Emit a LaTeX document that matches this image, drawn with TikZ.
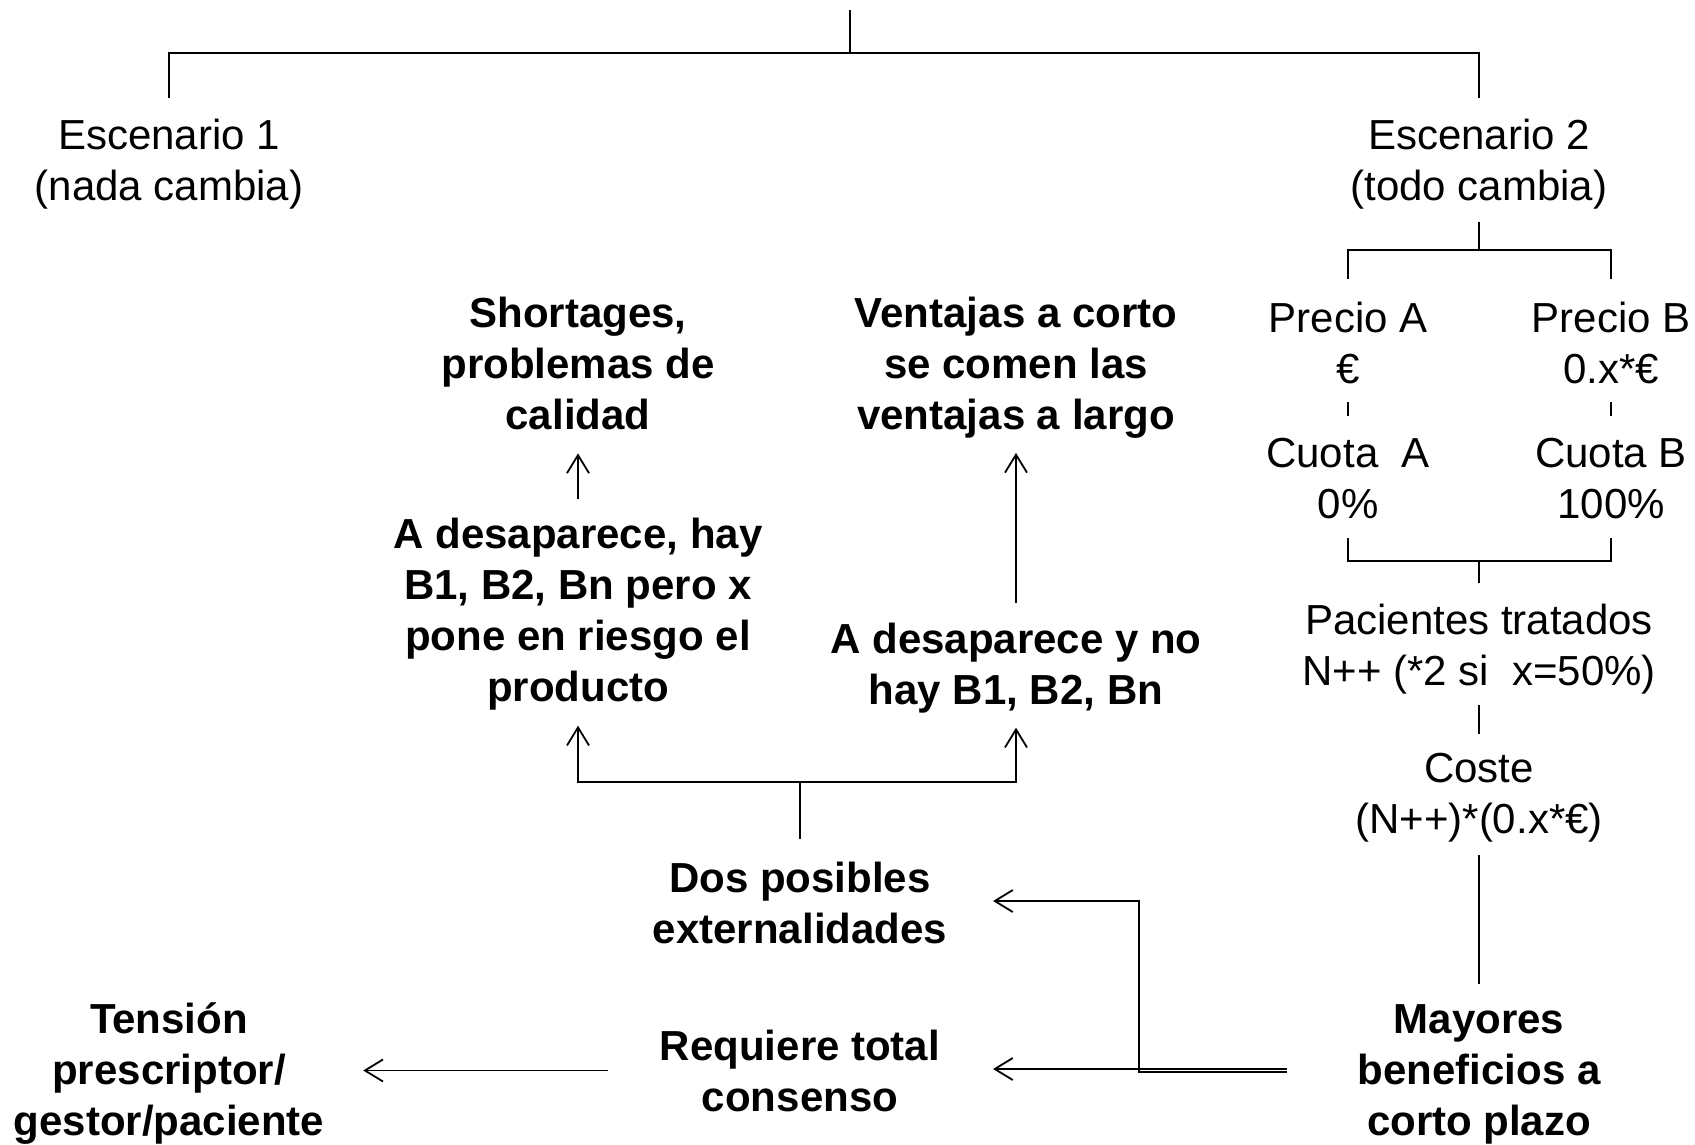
\documentclass[tikz,border=0pt]{standalone}
\usepackage{fontspec}
\setmainfont{Liberation Sans}
\usetikzlibrary{arrows.meta,calc}
\newcommand\mlines[2][51pt]{\vtop{\baselineskip=#1\relax\lineskip=0pt\relax\lineskiplimit=-200pt\relax\halign{\hfil##\hfil\cr#2\crcr}}}
\tikzset{
 txt/.style={inner sep=0pt, outer sep=0pt, anchor=base, font=\fontsize{42pt}{51pt}\selectfont},
 btxt/.style={txt, font=\fontsize{42pt}{51pt}\selectfont\bfseries},
 ln/.style={line width=1.8pt},
 arr/.style={ln, -{Straight Barb[length=18pt,width=22pt]}},
}
\begin{document}
\begin{tikzpicture}[x=1pt,y=-1pt]
\useasboundingbox (0,0) rectangle (1695,1144);
% text nodes
\node[txt] (esc1) at (169,149) {\mlines{Escenario 1\cr(nada cambia)}};
\node[txt] (esc2) at (1479,149) {\mlines{Escenario 2\cr(todo cambia)}};
\node[txt] (precA) at (1348,332) {\mlines{Precio A\cr €}};
\node[txt] (precB) at (1611,332) {\mlines{Precio B\cr 0.x*€}};
\node[txt] (cuoA) at (1348,467) {\mlines{Cuota~~A\cr 0\%}};
\node[txt] (cuoB) at (1611,467) {\mlines{Cuota B\cr 100\%}};
\node[txt] (pac) at (1479,634) {\mlines{Pacientes tratados\cr N++ (*2 si~~x=50\%)}};
\node[txt] (coste) at (1479,782) {\mlines{Coste\cr (N++)*(0.x*€)}};
\node[btxt] (may) at (1479,1033) {\mlines{Mayores\cr beneficios a\cr corto plazo}};
\node[btxt] (short) at (578,327) {\mlines{Shortages,\cr problemas de\cr calidad}};
\node[btxt] (vent) at (1016,327) {\mlines{Ventajas a corto\cr se comen las\cr ventajas a largo}};
\node[btxt] (adh) at (578,548) {\mlines{A desaparece, hay\cr B1, B2, Bn pero x\cr pone en riesgo el\cr producto}};
\node[btxt] (adn) at (1016,653) {\mlines{A desaparece y no\cr hay B1, B2, Bn}};
\node[btxt] (dos) at (800,892) {\mlines{Dos posibles\cr externalidades}};
\node[btxt] (req) at (800,1060) {\mlines{Requiere total\cr consenso}};
\node[btxt] (ten) at (169,1033) {\mlines{Tensión\cr prescriptor/\cr gestor/paciente}};
% junction coordinates
\coordinate (topc) at (850,10);
\coordinate (bar) at (850,53);
\coordinate (br1) at (1479,250);
\coordinate (br2) at (1479,561);
\coordinate (br3) at (800,782);
\coordinate (mayL) at (1287,1069);
\coordinate (mayL2) at (1287,1072);
\coordinate (jog) at (1139,901);
% connectors
\draw[ln] (topc) -- (bar);
\draw[ln, shorten <=21pt, shorten >=21pt] (esc1.north) |- (bar) -| (esc2.north);
\draw[ln, shorten <=13pt] (esc2.south) -- (br1);
\draw[ln, shorten <=23pt, shorten >=23pt] (precA.north) |- (br1) -| (precB.north);
\draw[ln, shorten <=19pt, shorten >=22pt] (precA.south) -- (cuoA.north);
\draw[ln, shorten <=19pt, shorten >=22pt] (precB.south) -- (cuoB.north);
\draw[ln, shorten <=20pt, shorten >=20pt] (cuoA.south) |- (br2) -| (cuoB.south);
\draw[ln, shorten >=21pt] (br2) -- (pac.north);
\draw[ln, shorten <=11pt, shorten >=19pt] (pac.south) -- (coste.north);
\draw[ln, shorten <=13pt, shorten >=20pt] (coste.south) -- (may.north);
\draw[arr, shorten >=53pt] (mayL) -- (mayL -| req.east);
\draw[arr, shorten >=46pt] (mayL2) -| (jog) -- (jog -| dos.east);
\draw[arr, shorten <=52pt, shorten >=39pt] (req.west) -- (req.west -| ten.east);
\draw[ln, shorten <=23pt] (dos.north) -- (br3);
\draw[arr, shorten >=16pt] (br3) -| (adh.south);
\draw[arr, shorten >=15pt] (br3) -| (adn.south);
\draw[arr, shorten <=19pt, shorten >=24pt] (adh.north) -- (short.south);
\draw[arr, shorten <=20pt, shorten >=15pt] (adn.north) -- (vent.south);
\end{tikzpicture}
\end{document}
